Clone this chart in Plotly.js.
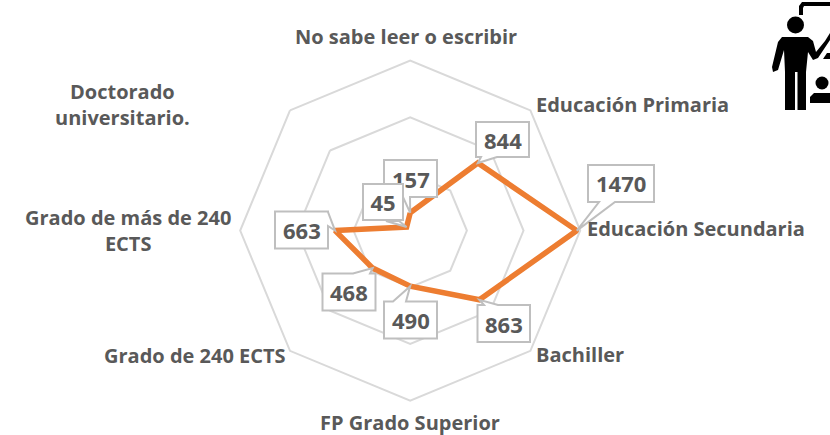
<!DOCTYPE html>
<html><head><meta charset="utf-8">
<script src="https://cdn.plot.ly/plotly-3.0.1.min.js"></script>
<style>html,body{margin:0;padding:0;background:#fff}#c{width:830px;height:435px}</style>
</head><body><div id="c"></div>
<script>
const categories = ["No sabe leer o escribir","Educación Primaria","Educación Secundaria","Bachiller","FP Grado Superior","Grado de 240 ECTS","Grado de más de 240 ECTS","Doctorado universitario."];
const values = [157,844,1470,863,490,468,663,45];
const axisLabels = ["No sabe leer o escribir","Educación Primaria","Educación Secundaria","Bachiller","FP Grado Superior","Grado de 240 ECTS","Grado de más de 240<br>ECTS","Doctorado<br>universitario."];
const radialTicks = [500,1000,1500];

const W=830,H=435,CX=410.2,CY=230.6,R=170,RMAX=1500;
const px=x=>x/W, py=y=>1-y/H;
const tip=i=>{const a=i*Math.PI/4,r=values[i]/RMAX*R;return [CX+r*Math.sin(a),CY-r*Math.cos(a)];};

// label layout: [x centre/anchor, y centre, xanchor]
const axisPos=[[406,37,'center'],[534,104,'left'],[585,228,'left'],[534,354,'left'],[410,422,'center'],[288,355,'right'],[128,230,'center'],[122,104,'center']];
// callout boxes: x0,x1,y0,y1, wedge base a(x,y), b(x,y); draw order
const boxes=[
 {i:0,x0:384,x1:437,y0:160,y1:197,a:[403,197],b:[410,197]},
 {i:1,x0:476,x1:529,y0:122,y1:157,a:[481,157],b:[497,157]},
 {i:2,x0:588,x1:654,y0:165,y1:202,a:[599,202],b:[615,202]},
 {i:3,x0:477.5,x1:530,y0:305,y1:342,a:[484,305],b:[498,305]},
 {i:4,x0:384,x1:437,y0:301.5,y1:338.5,a:[393,301.5],b:[406,301.5]},
 {i:5,x0:322.5,x1:375.5,y0:273.5,y1:310.5,a:[353,273.5],b:[370,273.5]},
 {i:6,x0:275,x1:328,y0:211.5,y1:248.5,a:[328,212],b:[328,226]},
 {i:7,x0:362.5,x1:403.5,y0:184,y1:221,a:[386,221],b:[399,221]}
];
const fontFam='"Open Sans", sans-serif';
const grey='#595959', boxLine='#bfbfbf';

const shapes=[], annotations=[];
axisLabels.forEach((t,i)=>{const p=axisPos[i];
 annotations.push({text:'<b>'+t+'</b>',xref:'paper',yref:'paper',x:px(p[0]),y:py(p[1]),xanchor:p[2],yanchor:'middle',showarrow:false,align:'center',font:{family:fontFam,size:20,color:grey}});
});
boxes.forEach(b=>{
 const t=tip(b.i);
 let outline;
 if(b.a[1]===b.y1){ outline=[[b.x0,b.y0],[b.x1,b.y0],[b.x1,b.y1],b.b,t,b.a,[b.x0,b.y1]]; }
 else if(b.a[1]===b.y0){ outline=[[b.x0,b.y0],b.a,t,b.b,[b.x1,b.y0],[b.x1,b.y1],[b.x0,b.y1]]; }
 else { outline=[[b.x0,b.y0],[b.x1,b.y0],b.a,t,b.b,[b.x1,b.y1],[b.x0,b.y1]]; }
 if(b.i===7){
  // top-most label: its box must also hide the digits of the label below
  shapes.push({type:'path',xref:'paper',yref:'paper',layer:'above',fillcolor:'#fff',line:{color:boxLine,width:2},
    path:'M'+px(b.a[0])+' '+py(b.a[1])+' L'+px(t[0])+' '+py(t[1])+' L'+px(b.b[0])+' '+py(b.b[1])+' Z'});
  annotations.push({text:'<b>'+values[b.i]+'</b>',xref:'paper',yref:'paper',x:px((b.x0+b.x1)/2),y:py((b.y0+b.y1)/2),xanchor:'center',yanchor:'middle',showarrow:false,width:b.x1-b.x0-3,height:b.y1-b.y0-3,borderpad:0,bgcolor:'#fff',bordercolor:boxLine,borderwidth:2,font:{family:fontFam,size:22,color:grey}});
 } else {
  shapes.push({type:'path',xref:'paper',yref:'paper',layer:'above',fillcolor:'#fff',line:{color:boxLine,width:2},
    path:'M'+outline.map(p=>px(p[0])+' '+py(p[1])).join(' L')+' Z'});
  annotations.push({text:'<b>'+values[b.i]+'</b>',xref:'paper',yref:'paper',x:px((b.x0+b.x1)/2),y:py((b.y0+b.y1)/2),xanchor:'center',yanchor:'middle',showarrow:false,font:{family:fontFam,size:22,color:grey}});
 }
});

// icon: teacher with board and audience
const pth=(a)=>a.map((p,i)=>(i?'L':'M')+px(p[0])+' '+py(p[1])).join(' ')+' Z';
const black=(path)=>({type:'path',xref:'paper',yref:'paper',layer:'above',fillcolor:'#000',line:{width:0},path});
const circ=(x,y,r)=>({type:'circle',xref:'paper',yref:'paper',layer:'above',fillcolor:'#000',line:{width:0},x0:px(x-r),x1:px(x+r),y0:py(y+r),y1:py(y-r)});
const icon=[
 circ(795.5,25,8.5),
 black(pth([[799,15],[799,6],[802,2],[830,2],[830,6],[804,6],[803,8],[803,15]])),
 black(pth([[782,37],[808,37],[813,41],[816,52],[825,41],[830,33],[830,40],[818,58],[813,60],[808,52],[806,72],[806,110],[797.5,110],[797.5,72],[795,72],[795,110],[785,110],[785,72],[784,50],[778,70],[773,72],[772,67],[778,42]])),
 black(pth([[823,59],[827,53],[830,53],[830,59]])),
 circ(822,83,6.5),
 black(pth([[810,103],[810,97],[814,93],[830,93],[830,103]]))
];
shapes.push(...icon);

const trace={type:'scatterpolar',r:values.concat(values[0]),theta:categories.concat(categories[0]),mode:'lines',
 line:{color:'#ed7d31',width:5.5,shape:'linear'},hoverinfo:'skip',cliponaxis:false};

const layout={width:W,height:H,margin:{l:0,r:0,t:0,b:0},paper_bgcolor:'#fff',showlegend:false,
 polar:{bgcolor:'#fff',gridshape:'linear',
  domain:{x:[(CX-R)/W,(CX+R)/W],y:[(H-CY-R)/H,(H-CY+R)/H]},
  angularaxis:{type:'category',categoryorder:'array',categoryarray:categories,direction:'clockwise',rotation:90,showgrid:false,showline:true,linecolor:'#d9d9d9',linewidth:2,ticks:'',showticklabels:false},
  radialaxis:{range:[0,RMAX],tickvals:radialTicks,showgrid:true,gridcolor:'#d9d9d9',gridwidth:2,griddash:'solid',showline:false,ticks:'',showticklabels:false}},
 shapes,annotations};
Plotly.newPlot('c',[trace],layout,{displayModeBar:false,staticPlot:true});
</script></body></html>
